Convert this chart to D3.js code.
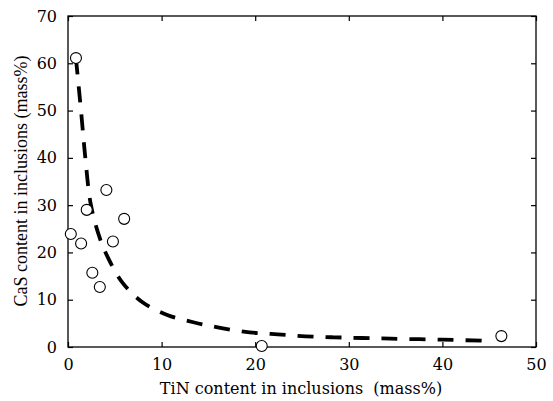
<!DOCTYPE html>
<html><head><meta charset="utf-8">
<script src="https://cdn.jsdelivr.net/npm/d3@7"></script>
<style>body{margin:0;background:#fff}</style>
</head><body><svg id="c" width="553" height="401"></svg>
<script>
const pointsX = [0.85, 0.3, 1.4, 2.0, 4.1, 6.0, 4.8, 2.6, 3.4, 20.7, 46.3];
const pointsY = [61.1, 23.9, 21.9, 29.0, 33.2, 27.1, 22.3, 15.7, 12.7, 0.2, 2.3];
const fitX = [0.85, 1.39, 1.85, 2.45, 3.4, 4.31, 5.86, 8.0, 10.6, 13.5, 16.4, 19.4, 22.4, 25.4, 28.4, 31.4, 34.5, 40, 44.2];
const fitY = [61, 50, 40, 30, 23, 18.75, 13.5, 9.4, 6.77, 5.18, 4.0, 3.1, 2.68, 2.26, 2.05, 1.9, 1.76, 1.55, 1.33];
const xTicks = [0, 10, 20, 30, 40, 50];
const yTicks = [0, 10, 20, 30, 40, 50, 60, 70];
const xTitle = "TiN content in inclusions\u00a0\u00a0(mass%)";
const yTitle = "CaS content in inclusions (mass%)";

const L = 68, R = 536, T = 16, B = 347;
const x = d3.scaleLinear().domain([0, 50]).range([L, R]);
const y = d3.scaleLinear().domain([0, 70]).range([B, T]);
const svg = d3.select("#c");
const font = "'DejaVu Serif', serif";

// frame
svg.append("rect").attr("x", L).attr("y", T).attr("width", R - L).attr("height", B - T)
  .attr("fill", "none").attr("stroke", "#000").attr("stroke-width", 1.3);

const tl = 5;
const ax = svg.append("g").attr("transform", `translate(0,${B})`)
  .call(d3.axisBottom(x).tickValues(xTicks).tickSize(-tl).tickPadding(tl + 7).tickFormat(d3.format("d")));
const axT = svg.append("g").attr("transform", `translate(0,${T})`)
  .call(d3.axisTop(x).tickValues(xTicks).tickSize(-tl).tickFormat(""));
const ay = svg.append("g").attr("transform", `translate(${L},0)`)
  .call(d3.axisLeft(y).tickValues(yTicks).tickSize(-tl).tickPadding(tl + 6).tickFormat(d3.format("d")));
const ayR = svg.append("g").attr("transform", `translate(${R},0)`)
  .call(d3.axisRight(y).tickValues(yTicks).tickSize(-tl).tickFormat(""));
[ax, axT, ay, ayR].forEach(g => {
  g.select(".domain").remove();
  g.selectAll("line").attr("stroke", "#000").attr("stroke-width", 1.2);
  g.selectAll("text").attr("font-family", font).attr("font-size", 16).attr("fill", "#000");
});

// fit curve
const line = d3.line().x((d, i) => x(fitX[i])).y((d, i) => y(fitY[i])).curve(d3.curveCatmullRom.alpha(0.5));
svg.append("path").datum(fitX).attr("d", line).attr("fill", "none")
  .attr("stroke", "#000").attr("stroke-width", 3.8).attr("stroke-dasharray", "16,12");

// points
svg.append("g").selectAll("circle").data(pointsX).join("circle")
  .attr("cx", d => x(d)).attr("cy", (d, i) => y(pointsY[i])).attr("r", 5.5)
  .attr("fill", "#fff").attr("stroke", "#000").attr("stroke-width", 1.1);

svg.append("text").attr("x", (160 + 442) / 2).attr("y", 394).attr("text-anchor", "middle")
  .attr("font-family", font).attr("font-size", 16).text(xTitle);
svg.append("text").attr("transform", `translate(27,181) rotate(-90)`).attr("text-anchor", "middle")
  .attr("font-family", "'Liberation Serif', serif").attr("font-size", 18).text(yTitle);
</script></body></html>
